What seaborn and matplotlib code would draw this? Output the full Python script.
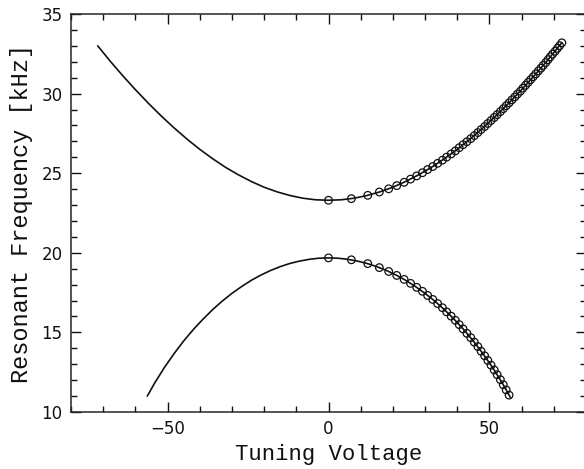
import matplotlib
matplotlib.use("Agg")
import matplotlib.pyplot as plt
import seaborn as sns
import pandas as pd
from matplotlib.ticker import MultipleLocator

# Theory curves
upper_line_v = [-71.7, -68, -64, -60, -56, -52, -48, -44, -40, -36, -32, -28, -24, -20,
                -16, -12, -8, -4, 0, 4, 8, 12, 16, 20, 24, 28, 32, 36, 40, 44, 48, 52,
                56, 60, 64, 68, 72.5]
upper_line_f = [33.00, 32.08, 31.14, 30.25, 29.40, 28.60, 27.85, 27.15, 26.50, 25.91,
                25.37, 24.90, 24.48, 24.12, 23.83, 23.60, 23.43, 23.33, 23.30, 23.33,
                23.43, 23.60, 23.83, 24.12, 24.48, 24.90, 25.37, 25.91, 26.50, 27.15,
                27.85, 28.60, 29.40, 30.25, 31.14, 32.08, 33.20]
lower_line_v = [-56.3, -54, -51, -48, -45, -42, -39, -36, -33, -30, -27, -24, -21, -18,
                -15, -12, -9, -6, -3, 0, 3, 6, 9, 12, 15, 18, 21, 24, 27, 30, 33, 36,
                39, 42, 45, 48, 51, 54, 56.5]
lower_line_f = [11.00, 11.82, 12.79, 13.66, 14.46, 15.18, 15.83, 16.43, 16.97, 17.45,
                17.88, 18.27, 18.60, 18.89, 19.13, 19.33, 19.48, 19.59, 19.66, 19.68,
                19.66, 19.59, 19.48, 19.33, 19.13, 18.89, 18.60, 18.27, 17.88, 17.45,
                16.97, 16.43, 15.83, 15.18, 14.46, 13.66, 12.79, 11.82, 10.92]

# Measured points
upper_pts_v = [0.0, 7.1, 12.2, 15.8, 18.7, 21.2, 23.5, 25.5, 27.4, 29.2, 30.8, 32.4, 33.9,
               35.4, 36.7, 38.1, 39.4, 40.6, 41.8, 43.0, 44.2, 45.3, 46.4, 47.4, 48.5,
               49.5, 50.5, 51.5, 52.4, 53.4, 54.3, 55.2, 56.1, 57.0, 57.9, 58.7, 59.6,
               60.4, 61.2, 62.0, 62.8, 63.6, 64.4, 65.2, 66.0, 66.7, 67.5, 68.2, 68.9,
               69.6, 70.4, 71.1, 71.8, 72.5]
upper_pts_f = [23.30, 23.40, 23.61, 23.82, 24.02, 24.22, 24.43, 24.63, 24.83, 25.03, 25.23,
               25.42, 25.62, 25.82, 26.01, 26.21, 26.40, 26.60, 26.79, 26.98, 27.17, 27.36,
               27.55, 27.74, 27.93, 28.12, 28.31, 28.50, 28.68, 28.87, 29.05, 29.24, 29.42,
               29.61, 29.79, 29.97, 30.15, 30.34, 30.52, 30.70, 30.88, 31.06, 31.24, 31.42,
               31.60, 31.77, 31.95, 32.13, 32.31, 32.48, 32.66, 32.84, 33.01, 33.19]
lower_pts_v = upper_pts_v[:33]
lower_pts_f = [19.68, 19.56, 19.32, 19.07, 18.83, 18.58, 18.33, 18.08, 17.83, 17.58, 17.32,
               17.07, 16.81, 16.55, 16.29, 16.02, 15.76, 15.49, 15.22, 14.94, 14.67, 14.39,
               14.11, 13.82, 13.53, 13.24, 12.94, 12.64, 12.34, 12.03, 11.71, 11.39, 11.06]

x_ticks = [-50, 0, 50]
y_ticks = [10, 15, 20, 25, 30, 35]

sns.set_style("ticks")
plt.rcParams["axes.linewidth"] = 1.1

lines = pd.concat([
    pd.DataFrame({"v": upper_line_v, "f": upper_line_f, "branch": "upper"}),
    pd.DataFrame({"v": lower_line_v, "f": lower_line_f, "branch": "lower"}),
])
pts = pd.concat([
    pd.DataFrame({"v": upper_pts_v, "f": upper_pts_f}),
    pd.DataFrame({"v": lower_pts_v, "f": lower_pts_f}),
])

fig = plt.figure(figsize=(5.84, 4.69), dpi=100)
ax = fig.add_axes([71/584, 1-412/469, (586-71)/584, (412-14)/469])

sns.lineplot(data=lines, x="v", y="f", units="branch", estimator=None,
             color="#111111", linewidth=1.2, ax=ax)
sns.scatterplot(data=pts, x="v", y="f", marker="o", s=30, facecolors="none",
                edgecolor="#111111", linewidth=0.9, ax=ax, zorder=3)

ax.set_xlim(-80, 80)
ax.set_ylim(10, 35)
ax.set_xticks(x_ticks)
ax.set_yticks(y_ticks)
ax.xaxis.set_minor_locator(MultipleLocator(10))
ax.yaxis.set_minor_locator(MultipleLocator(1))
ax.tick_params(which="both", direction="in", top=True, right=True,
               labelsize=12, colors="#111111", width=1.0, pad=6)
ax.tick_params(which="major", length=7)
ax.tick_params(which="minor", length=4)
ax.set_xlabel("Tuning Voltage", family="Liberation Mono", fontsize=16,
              color="#111111", labelpad=4)
ax.set_ylabel("Resonant Frequency [kHz]", family="Liberation Mono", fontsize=17,
              color="#111111", labelpad=6)

fig.savefig("out.png", dpi=100)
